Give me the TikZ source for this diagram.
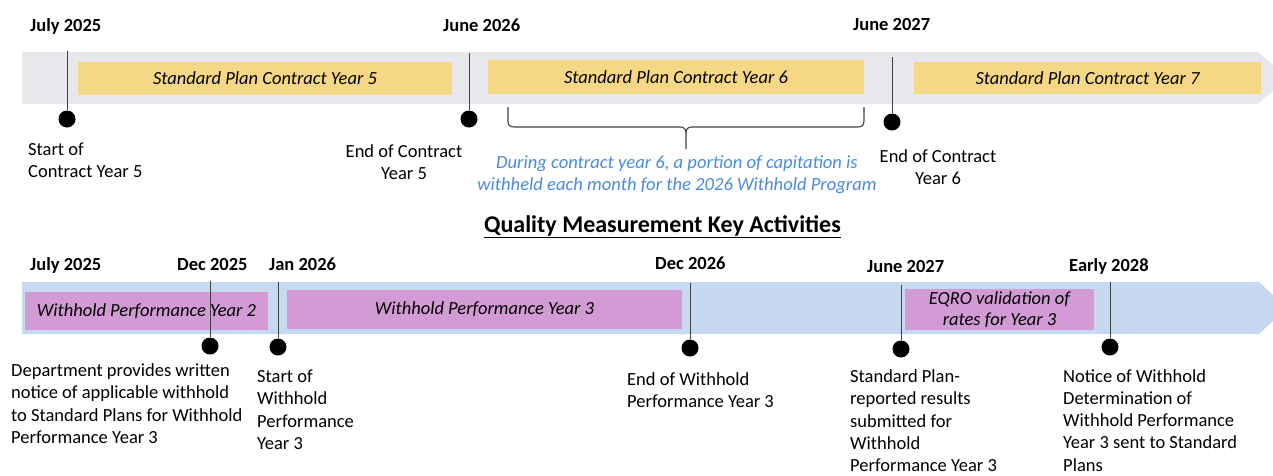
\documentclass[tikz,border=0pt]{standalone}
\usepackage{fontspec}
\setmainfont{Carlito}
\definecolor{bandgray}{HTML}{E7E8EC}
\definecolor{planyellow}{HTML}{F6D785}
\definecolor{bandblue}{HTML}{C6D9F1}
\definecolor{wpurple}{HTML}{D39BD6}
\definecolor{noteblue}{HTML}{4A8CDB}
\definecolor{stemgray}{HTML}{404040}
\begin{document}
\begin{tikzpicture}[x=1pt,y=-1pt,
  % multi-line labels are placed by the baseline of their last line
  lbl/.style={inner sep=0pt, font=\fontsize{18.5}{22.5}\selectfont, align=left, anchor=base west},
  clbl/.style={inner sep=0pt, font=\fontsize{18.5}{22}\selectfont, align=center, anchor=base},
  datelbl/.style={inner sep=0pt, font=\bfseries\fontsize{18.5}{22}\selectfont, anchor=base west},
  planbox/.style={fill=planyellow, inner sep=0pt, font=\itshape\fontsize{18.5}{22}\selectfont},
  wbox/.style={fill=wpurple, inner sep=0pt, align=center, font=\itshape\fontsize{18.5}{21}\selectfont},
  dot/.style={circle, fill=black, inner sep=0pt, minimum size=17pt},
  stem/.style={draw=stemgray, line width=1pt},
  bracket/.style={draw=stemgray, line width=1.1pt, line join=round}
]
\useasboundingbox (0,0) rectangle (1273,475);

% ---------- contract years band ----------
\fill[bandgray] (22,52) -- (1258,52) -- (1288,78) -- (1258,104) -- (22,104) -- cycle;
\node[planbox, minimum width=374pt, minimum height=33pt] (cy5) at (265,78.5) {Standard Plan Contract Year 5};
\node[planbox, minimum width=376pt, minimum height=34pt] (cy6) at (676,77) {Standard Plan Contract Year 6};
\node[planbox, minimum width=347pt, minimum height=32pt] (cy7) at (1087.5,78) {Standard Plan Contract Year 7};

\node[datelbl] (dJul25) at (30,31) {July 2025};
\node[datelbl] (dJun26) at (443,31) {June 2026};
\node[datelbl] (dJun27) at (853,30) {June 2027};

\coordinate (tA) at (67,51);
\coordinate (tB) at (469,53);
\coordinate (tC) at (892,57);
\node[dot] (mA) at (67,119) {};
\node[dot] (mB) at (469,119) {};
\node[dot] (mC) at (892,122) {};
\draw[stem] (tA) -- (mA);
\draw[stem] (tB) -- (mB);
\draw[stem] (tC) -- (mC);

\node[lbl, font=\fontsize{18.5}{22}\selectfont] (sA) at (28,177) {Start of\\Contract Year 5};
\node[clbl] (sB) at (404,179) {End of Contract\\Year 5};
\node[clbl] (sC) at (938,184) {End of Contract\\Year 6};

% brace under contract year 6
\coordinate (brL) at (508,107);
\coordinate (brR) at (864,107);
\coordinate (brM) at (686,149);
\draw[bracket] (brL) -- (508,121) .. controls (508,125) and (510,127) .. (514,127)
  -- (680,127) .. controls (684,127) and (686,129) .. (686,133) -- (brM);
\draw[bracket] (brR) -- (864,121) .. controls (864,125) and (862,127) .. (858,127)
  -- (692,127) .. controls (688,127) and (686,129) .. (686,133);
\node[clbl, text=noteblue, font=\itshape\fontsize{18.6}{22}\selectfont] (note) at (677,190)
  {During contract year 6, a portion of capitation is\\withheld each month for the 2026 Withhold Program};

% ---------- title ----------
\node[inner sep=0pt, anchor=base, font=\bfseries\fontsize{24}{28}\selectfont] (title) at (662.5,232)
  {\underline{Quality Measurement Key Activities}};

% ---------- withhold band ----------
\fill[bandblue] (22,282) -- (1259,282) -- (1287,308) -- (1259,334) -- (22,334) -- cycle;
\node[wbox, minimum width=243pt, minimum height=38pt] (wp2) at (146.5,311) {Withhold Performance Year 2};
\node[wbox, minimum width=395pt, minimum height=39pt] (wp3) at (484.5,309.5) {Withhold Performance Year 3};
\node[wbox, minimum width=189pt, minimum height=41pt] (eqro) at (999.5,309.5) {EQRO validation of\\rates for Year 3};

\node[datelbl] (bJul25) at (30,270) {July 2025};
\node[datelbl] (bDec25) at (177,270) {Dec 2025};
\node[datelbl] (bJan26) at (269,270) {Jan 2026};
\node[datelbl] (bDec26) at (655,269) {Dec 2026};
\node[datelbl] (bJun27) at (867,272) {June 2027};
\node[datelbl] (bEar28) at (1069,271) {Early 2028};

\coordinate (uA) at (210,281);
\coordinate (uB) at (278,282);
\coordinate (uC) at (690,283);
\coordinate (uD) at (901,285);
\coordinate (uE) at (1110,282);
\node[dot] (nA) at (210,346) {};
\node[dot] (nB) at (278,347) {};
\node[dot] (nC) at (690,348) {};
\node[dot] (nD) at (901,349) {};
\node[dot] (nE) at (1110,347) {};
\draw[stem] (uA) -- (nA);
\draw[stem] (uB) -- (nB);
\draw[stem] (uC) -- (nC);
\draw[stem] (uD) -- (nD);
\draw[stem] (uE) -- (nE);

\node[lbl] (qA) at (11,443.5) {Department provides written\\notice of applicable withhold\\to Standard Plans for Withhold\\Performance Year 3};
\node[lbl] (qB) at (257,449.5) {Start of\\Withhold\\Performance\\Year 3};
\node[lbl] (qC) at (627,407.5) {End of Withhold\\Performance Year 3};
\node[lbl, font=\fontsize{18.5}{22.2}\selectfont] (qD) at (850,471.5) {Standard Plan-\\reported results\\submitted for\\Withhold\\Performance Year 3};
\node[lbl, font=\fontsize{18.5}{22.2}\selectfont] (qE) at (1063,471) {Notice of Withhold\\Determination of\\Withhold Performance\\Year 3 sent to Standard\\Plans};
\end{tikzpicture}
\end{document}
